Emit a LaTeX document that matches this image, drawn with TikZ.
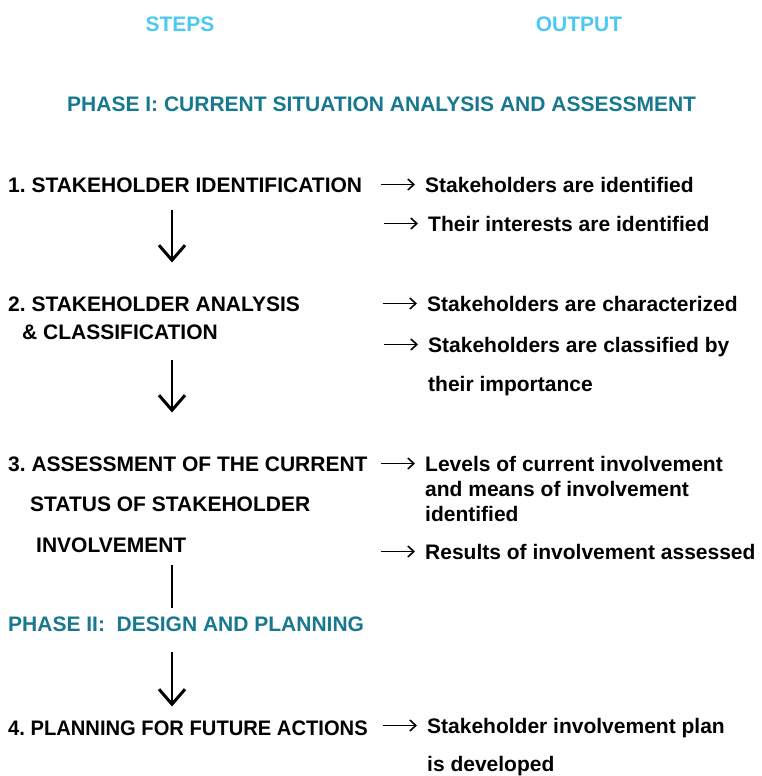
\documentclass[tikz,border=0pt]{standalone}
\usepackage{fontspec}
\setmainfont{Liberation Sans}
\usetikzlibrary{arrows.meta}

\definecolor{headblue}{HTML}{4CC9F0}
\definecolor{phaseteal}{HTML}{17788F}

\frenchspacing

\begin{document}
\begin{tikzpicture}[x=1pt, y=-1pt,
		every node/.style={inner sep=0, anchor=north west, font=\fontsize{21}{25}\selectfont\bfseries},
		txt/.style={align=left},
		head/.style={anchor=center, text=headblue},
		phase/.style={text=phaseteal},
		outarrow/.style={line width=1.5pt, -{Straight Barb[length=6pt, width=11pt, line width=1.6pt]}},
		flow/.style={line width=2.4pt, -{Straight Barb[length=15pt, width=26pt, line width=3pt]}}]
		\useasboundingbox (0, 0) rectangle (761, 776);

		% column heads and phases
		\node[head] (steps) at (180, 24) {STEPS};
		\node[head] (output) at (579, 24) {OUTPUT};
		\node[phase] (phase1) at (67, 96.5) {PHASE I: CURRENT SITUATION ANALYSIS AND ASSESSMENT};
		\node[phase] (phase2) at (8, 616.5) {PHASE II:\ \ DESIGN AND PLANNING};

		% steps
		\node[txt] (s1) at (8, 177.5) {1. STAKEHOLDER IDENTIFICATION};
		\node[txt] (s2) at (8, 296.5) {2. STAKEHOLDER ANALYSIS\\[3pt]\hspace*{14pt}\& CLASSIFICATION};
		\node[txt] (s3) at (8, 456.5) {3. ASSESSMENT OF THE CURRENT\\[15pt]\hspace*{22pt}STATUS OF STAKEHOLDER\\[16pt]\hspace*{28pt}INVOLVEMENT};
		\node (s4) at (8, 720.5) {\scalebox{0.96}[1]{4. PLANNING FOR FUTURE ACTIONS}};

		% outputs
		\node[txt] (o1) at (425, 177.5) {Stakeholders are identified};
		\node[txt] (o2) at (428, 216.5) {Their interests are identified};
		\node[txt] (o3) at (427, 296.5) {Stakeholders are characterized};
		\node[txt] (o4) at (428, 337.5) {Stakeholders are classified by\\[14pt]their importance};
		\node[txt] (o5) at (425, 456.5) {Levels of current involvement\\and means of involvement\\identified};
		\node[txt] (o6) at (425, 544.5) {Results of involvement assessed};
		\node[txt] (o7) at (427, 718.5) {Stakeholder involvement plan\\[13pt]is developed};

		\foreach \i in {1,...,7}
			\draw[outarrow] ([shift={(-44pt,-7pt)}]o\i.north west) -- ([shift={(-10pt,-7pt)}]o\i.north west);

		% flow between steps
		\coordinate (ax) at (172, 0);
		\draw[flow, shorten <=17pt, shorten >=34pt] (s1.south -| ax) -- (s2.north -| ax);
		\draw[flow, shorten <=20pt, shorten >=44pt] (s2.south -| ax) -- (s3.north -| ax);
		\draw[line width=2.4pt, shorten <=12pt, shorten >=9pt] (s3.south -| ax) -- (phase2.north -| ax);
		\draw[flow, shorten <=20pt, shorten >=14pt] (phase2.south -| ax) -- (s4.north -| ax);
	\end{tikzpicture}
\end{document}
